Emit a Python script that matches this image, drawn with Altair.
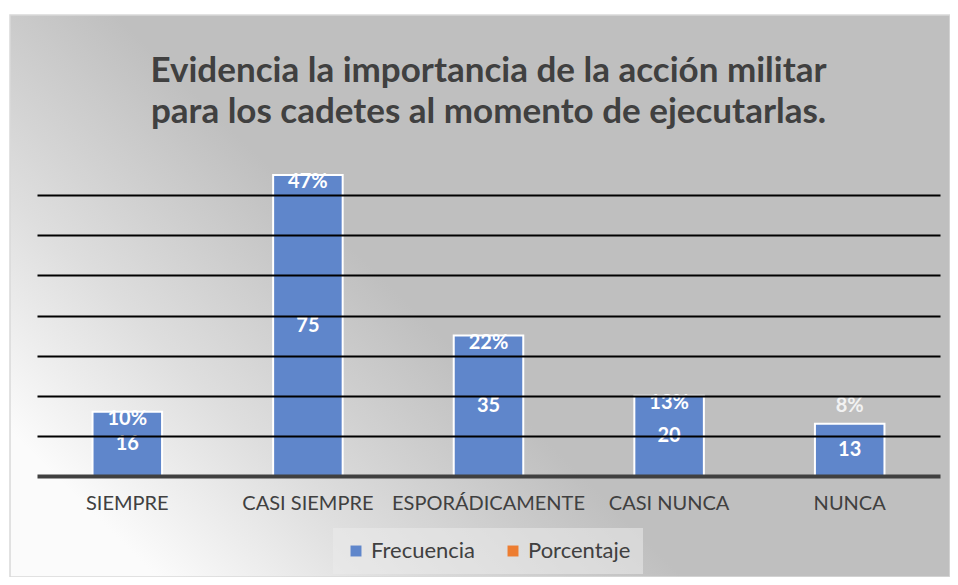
import altair as alt
import pandas as pd

categorias = ["SIEMPRE", "CASI SIEMPRE", "ESPORÁDICAMENTE", "CASI NUNCA", "NUNCA"]
frecuencia = [16, 75, 35, 20, 13]
porcentaje = ["10%", "47%", "22%", "13%", "8%"]
series = ["Frecuencia", "Porcentaje"]
colores = ["#5F86CB", "#ED7D31"]
titulo = ["Evidencia la importancia de la acción militar",
          "para los cadetes al momento de ejecutarlas."]

df = pd.DataFrame({
    "categoria": categorias,
    "frecuencia": frecuencia,
    "porcentaje": porcentaje,
    "serie": ["Frecuencia"] * len(categorias),
})
df["mitad"] = df["frecuencia"] / 2

W, H = 903, 321
FONT = "Lato"

xenc = alt.X("categoria:N", sort=categorias, title=None,
             scale=alt.Scale(paddingInner=0.615, paddingOuter=0.3075),
             axis=alt.Axis(labelAngle=0, labelFontSize=20, labelColor="#404040",
                           labelFont=FONT, ticks=False, domainColor="#404040",
                           domainWidth=4, labelPadding=17, zindex=1,
                           labelLimit=0, labelOverlap=False))
yscale = alt.Scale(domain=[0, 80], nice=False)

fondo = alt.Chart(pd.DataFrame({"a": [0]})).mark_rect(
    color=alt.Gradient(
        gradient="linear",
        x1=0.149, y1=0.988, x2=0.56, y2=0.74,
        stops=[alt.GradientStop(color="#FBFBFB", offset=0),
               alt.GradientStop(color="#DEDEDE", offset=0.45),
               alt.GradientStop(color="#BFBFBF", offset=1)]),
    stroke="#D9D9D9", strokeWidth=1.5
).encode(x=alt.value(-27), x2=alt.value(W + 10), y=alt.value(-140), y2=alt.value(H + 101))

base = alt.Chart(df)

barras = base.mark_bar(stroke="white", strokeWidth=2).encode(
    x=xenc,
    y=alt.Y("frecuencia:Q", scale=yscale, title=None,
            axis=alt.Axis(values=[10, 20, 30, 40, 50, 60, 70], labels=False, ticks=False,
                          domain=False, grid=True, gridColor="black", gridWidth=2,
                          gridOpacity=1, zindex=1)),
    color=alt.Color("serie:N", scale=alt.Scale(domain=series, range=colores),
                    legend=alt.Legend(title=None, orient="none", direction="horizontal",
                                      legendX=296, legendY=373, symbolType="square",
                                      symbolSize=120, labelFontSize=22, labelFont=FONT,
                                      labelColor="#404040", columnPadding=26,
                                      padding=12, fillColor="rgba(235,235,235,0.55)",
                                      symbolStrokeWidth=0)),
)

etiqueta_frec = base.mark_text(color="white", fontWeight="bold", fontSize=20,
                               font=FONT, baseline="middle").encode(
    x=alt.X("categoria:N", sort=categorias),
    y=alt.Y("mitad:Q", scale=yscale),
    text="frecuencia:Q",
)

etiqueta_pct_in = base.transform_filter("datum.frecuencia >= 15").mark_text(
    color="white", fontWeight="bold", fontSize=20, font=FONT, baseline="middle", dy=7
).encode(
    x=alt.X("categoria:N", sort=categorias),
    y=alt.Y("frecuencia:Q", scale=yscale),
    text="porcentaje:N",
)

etiqueta_pct_out = base.transform_filter("datum.frecuencia < 15").mark_text(
    color="#F2F2F2", fontWeight="bold", fontSize=20, font=FONT, baseline="middle", dy=-18
).encode(
    x=alt.X("categoria:N", sort=categorias),
    y=alt.Y("frecuencia:Q", scale=yscale),
    text="porcentaje:N",
)

chart = alt.layer(fondo, barras, etiqueta_frec, etiqueta_pct_in, etiqueta_pct_out).properties(
    width=W, height=H,
    autosize=alt.AutoSizeParams(type="none"),
    padding={"left": 29, "top": 147, "right": 10, "bottom": 101},
    background="white",
    title=alt.TitleParams(titulo, anchor="middle", fontSize=35, font=FONT,
                          fontWeight="bold", color="#404040", lineHeight=41,
                          offset=0, dy=116),
).configure_view(stroke=None)

chart.save("out.html", embed_options={"renderer": "svg", "actions": False})
